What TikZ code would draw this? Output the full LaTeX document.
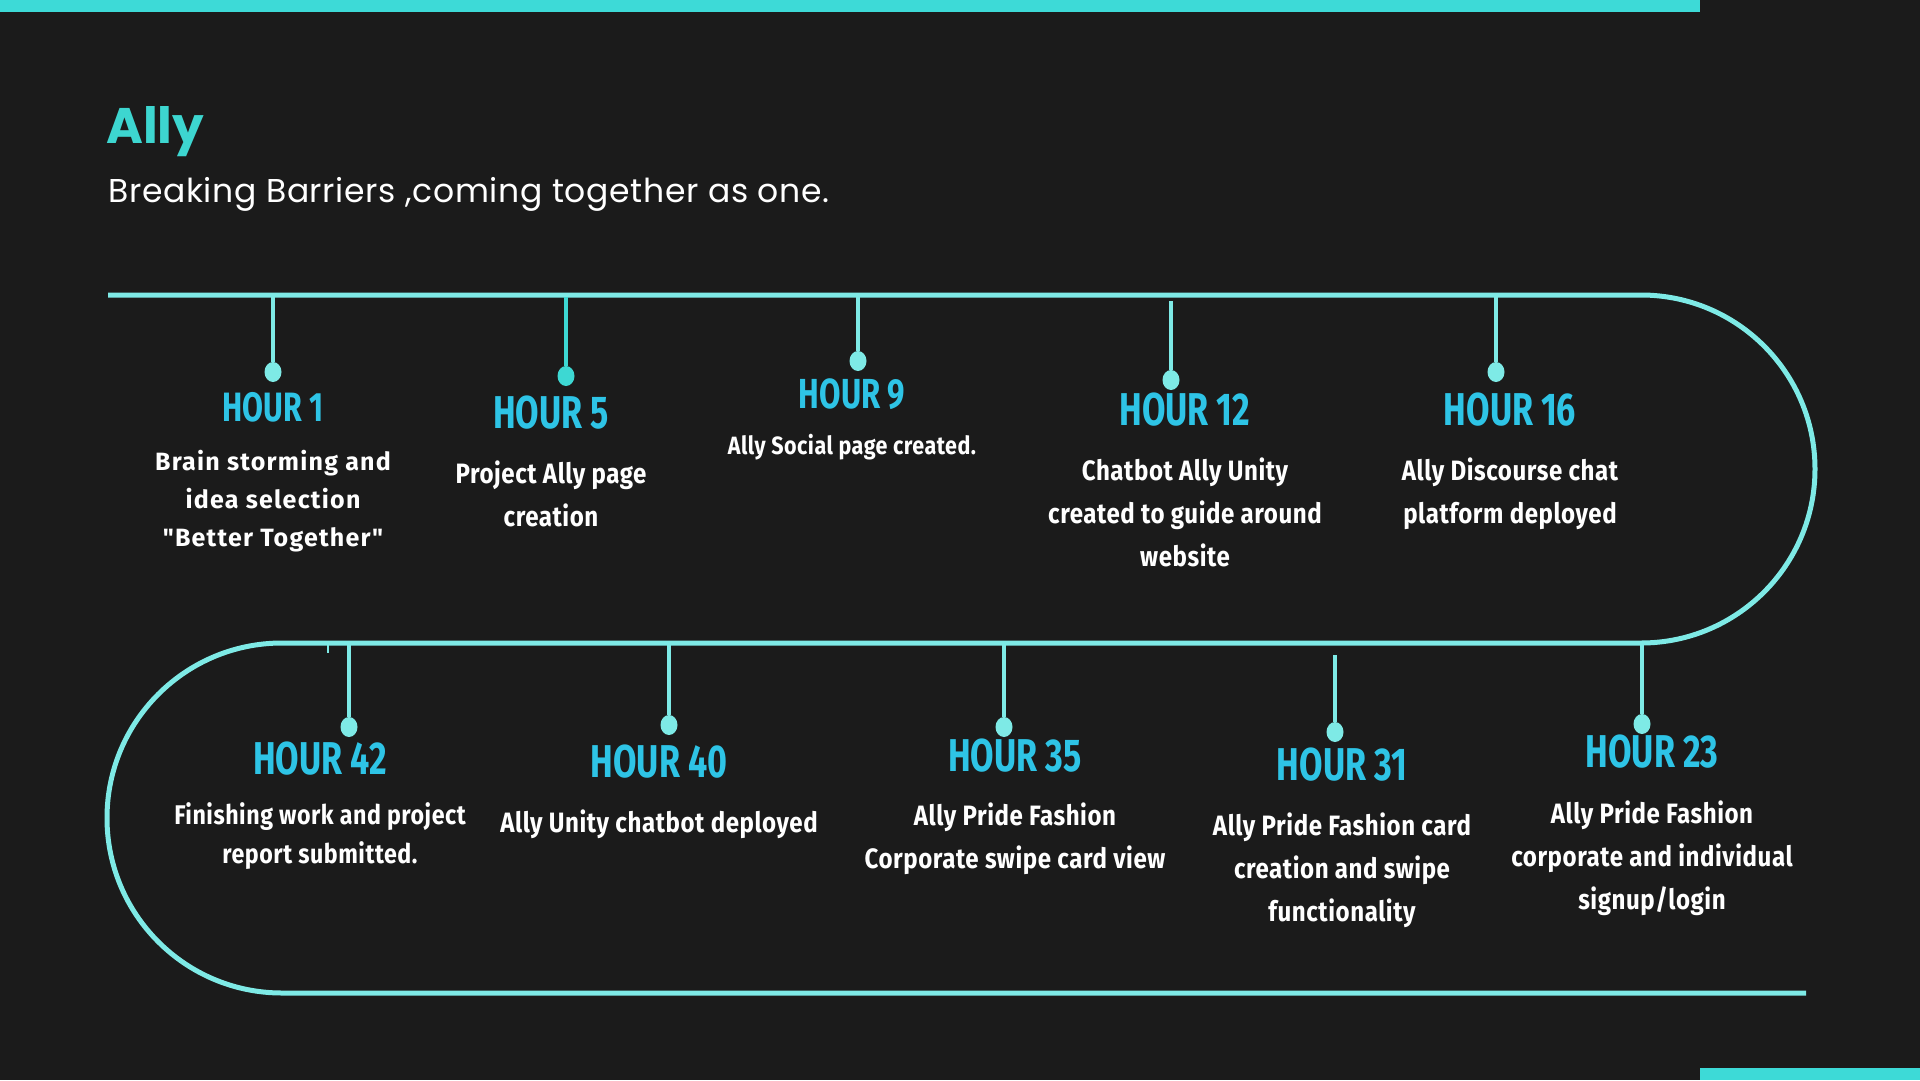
\documentclass[tikz,border=0pt]{standalone}
\usepackage{fontspec}
\setmainfont{Fira Sans}
\newfontfamily\condfont[FakeStretch=0.74]{Fira Sans}
\newfontfamily\descfont[FakeStretch=0.86,LetterSpace=2]{Fira Sans}
\newfontfamily\widefont[LetterSpace=5]{Fira Sans}
\newfontfamily\titlefont{Poppins}
\newfontfamily\subfont[LetterSpace=2]{Poppins}
\usetikzlibrary{shapes.geometric}
\definecolor{bgc}{HTML}{1B1B1B}
\definecolor{trackc}{HTML}{7EEAE6}
\definecolor{darktrackc}{HTML}{3DD8D3}
\definecolor{barc}{HTML}{3DDAD7}
\definecolor{hourc}{HTML}{2EC4E6}
\definecolor{titlec}{HTML}{3DD6D0}
\tikzset{
  trackline/.style={draw=trackc, line width=5pt},
  stemline/.style={draw=trackc, line width=4pt},
  dotnode/.style={ellipse, fill=trackc, minimum width=17pt, minimum height=20pt, inner sep=0pt},
  hourlabel/.style={text=hourc, inner sep=0pt, anchor=center, font=\condfont\bfseries\fontsize{46}{50}\selectfont},
  desc/.style={text=white, align=center, inner sep=0pt, anchor=center, font=\descfont\bfseries\fontsize{28}{43}\selectfont},
}
\begin{document}
\begin{tikzpicture}[x=1pt,y=-1pt]
\useasboundingbox (0,0) rectangle (1920,1080);
\fill[bgc] (0,0) rectangle (1920,1080);
% bars
\fill[barc] (0,0) rectangle (1700,12);
\fill[barc] (1700,1068) rectangle (1920,1080);
% title
\node[anchor=base west, inner sep=0pt, text=titlec, font=\titlefont\bfseries\fontsize{50}{55}\selectfont] (title) at (106,143) {Ally};
\node[anchor=base west, inner sep=0pt, text=white, font=\subfont\fontsize{33}{38}\selectfont] (subtitle) at (108,202) {Breaking Barriers ,coming together as one.};
% track
\draw[trackline] (108,295) -- (1641,295) arc[start angle=-90, end angle=90, radius=174] -- (282,643) arc[start angle=-90, end angle=-270, radius=175] -- (1806,993);
% stems top row
\coordinate (s1) at (273,297);
\coordinate (s5) at (566,297);
\coordinate (s9) at (858,297);
\coordinate (s12) at (1171,301);
\coordinate (s16) at (1496,297);
\node[dotnode] (d1) at (273,372) {};
\node[dotnode, fill=darktrackc] (d5) at (566,376) {};
\node[dotnode] (d9) at (858,361) {};
\node[dotnode] (d12) at (1171,380) {};
\node[dotnode] (d16) at (1496,372) {};
\draw[stemline] (s1) -- (d1);
\draw[stemline, draw=darktrackc] (s5) -- (d5);
\draw[stemline] (s9) -- (d9);
\draw[stemline] (s12) -- (d12);
\draw[stemline] (s16) -- (d16);
% stems bottom row
\coordinate (s42) at (349,645);
\coordinate (s40) at (669,645);
\coordinate (s35) at (1004,645);
\coordinate (s31) at (1335,655);
\coordinate (s23) at (1642,645);
\coordinate (tick) at (328,645);
\coordinate (tickend) at (328,653);
\node[dotnode] (d42) at (349,727) {};
\node[dotnode] (d40) at (669,725) {};
\node[dotnode] (d35) at (1004,727) {};
\node[dotnode] (d31) at (1335,732) {};
\node[dotnode] (d23) at (1642,724) {};
\draw[stemline] (s42) -- (d42);
\draw[stemline] (s40) -- (d40);
\draw[stemline] (s35) -- (d35);
\draw[stemline] (s31) -- (d31);
\draw[stemline] (s23) -- (d23);
\draw[draw=trackc, line width=2.5pt] (tick) -- (tickend);
% hour labels
\node[hourlabel, font=\condfont\bfseries\fontsize{41}{45}\selectfont] (h1) at (273,407) {HOUR 1};
\node[hourlabel] (h5) at (551,413) {HOUR 5};
\node[hourlabel, font=\condfont\bfseries\fontsize{42}{46}\selectfont] (h9) at (852,394) {HOUR 9};
\node[hourlabel] (h12) at (1185,410) {HOUR 12};
\node[hourlabel] (h16) at (1510,410) {HOUR 16};
\node[hourlabel] (h42) at (320,759) {HOUR 42};
\node[hourlabel] (h40) at (659,762) {HOUR 40};
\node[hourlabel] (h35) at (1015,756) {HOUR 35};
\node[hourlabel] (h31) at (1342,765) {HOUR 31};
\node[hourlabel] (h23) at (1652,752) {HOUR 23};
% descriptions
\node[desc, font=\widefont\bfseries\fontsize{25}{38}\selectfont] (t1) at (273,501) {Brain storming and\\idea selection\\"Better Together"};
\node[desc] (t5) at (551,494) {Project Ally page\\creation};
\node[desc, font=\descfont\bfseries\fontsize{25}{30}\selectfont] (t9) at (852,447) {Ally Social page created.};
\node[desc] (t12) at (1185,512) {Chatbot Ally Unity\\created to guide around\\website};
\node[desc] (t16) at (1510,494) {Ally Discourse chat\\platform deployed};
\node[desc, font=\descfont\bfseries\fontsize{27}{39}\selectfont] (t42) at (320,836) {Finishing work and project\\report submitted.};
\node[desc] (t40) at (659,824) {Ally Unity chatbot deployed};
\node[desc] (t35) at (1015,839) {Ally Pride Fashion\\Corporate swipe card view};
\node[desc] (t31) at (1342,870) {Ally Pride Fashion card\\creation and swipe\\functionality};
\node[desc] (t23) at (1652,858) {Ally Pride Fashion\\corporate and individual\\signup/login};
\end{tikzpicture}
\end{document}
